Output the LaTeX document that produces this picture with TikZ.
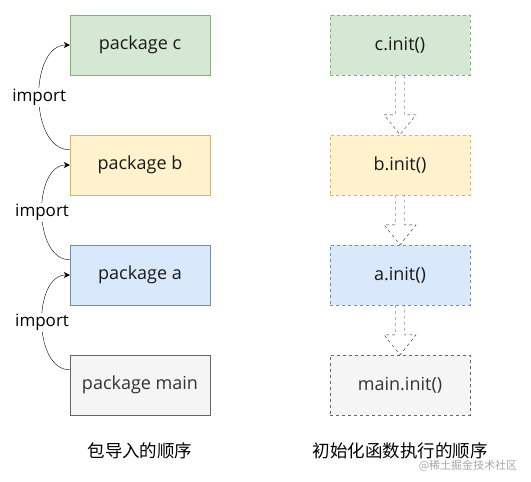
\documentclass[tikz,border=0pt]{standalone}
\usepackage{fontspec}
\setmainfont{Open Sans}
\newfontfamily\cjkfont{Noto Sans CJK SC}
\usetikzlibrary{calc,arrows.meta}

\definecolor{greenfill}{HTML}{D5E8D4}
\definecolor{greenline}{HTML}{82B366}
\definecolor{yellowfill}{HTML}{FFF2CC}
\definecolor{yellowline}{HTML}{D6B656}
\definecolor{bluefill}{HTML}{DAE8FC}
\definecolor{blueline}{HTML}{6C8EBF}
\definecolor{greyfill}{HTML}{F5F5F5}
\definecolor{greyline}{HTML}{666666}
\definecolor{greytext}{HTML}{333333}

\begin{document}
\begin{tikzpicture}[x=1pt,y=-1pt,
	pkg/.style={shape=rectangle,draw,minimum width=140pt,minimum height=60pt,
		font=\fontsize{18}{21}\selectfont,text=black!90},
	initbox/.style={pkg,dashed},
	importarrow/.style={-{Stealth[length=6pt,width=6pt]},thin},
	blockarrow/.style={dashed,thin,draw=black!85}]
	
	\useasboundingbox (0,0) rectangle (531,482);
	
	\node[pkg,fill=greenfill,draw=greenline]   (c) at (140, 45)  {package c};
	\node[pkg,fill=yellowfill,draw=yellowline] (b) at (140, 165) {package b};
	\node[pkg,fill=bluefill,draw=blueline]     (a) at (140, 275) {package a};
	\node[pkg,fill=greyfill,draw=greyline,text=greytext] (m) at (140, 385) {package main};
	
	\node[initbox,fill=greenfill,draw=greenline]   (ci) at (400, 45)  {c.init()};
	\node[initbox,fill=yellowfill,draw=yellowline] (bi) at (400, 165) {b.init()};
	\node[initbox,fill=bluefill,draw=blueline]     (ai) at (400, 275) {a.init()};
	\node[initbox,fill=greyfill,draw=greyline,text=greytext] (mi) at (400, 385) {main.init()};
	
	\node[font=\cjkfont\fontsize{17.5}{20}\selectfont] (left) at (140, 451) {包导入的顺序};
	\node[font=\cjkfont\fontsize{17.5}{20}\selectfont] (right) at (400, 451) {初始化函数执行的顺序};
	\node[font=\cjkfont\fontsize{11}{13}\selectfont,text=black!35] (mark) at (468, 466) {@稀土掘金技术社区};
	
	\draw[importarrow] ($(b.north west)+(0,15)$) to[out=180,in=180]
		node[fill=white,inner sep=1pt,font=\fontsize{17}{20}\selectfont] {import} (c.west);
	\draw[importarrow] ($(a.north west)+(0,15)$) to[out=180,in=180]
		node[fill=white,inner sep=1pt,font=\fontsize{17}{20}\selectfont] {import} (b.west);
	\draw[importarrow] ($(m.north west)+(0,15)$) to[out=180,in=180]
		node[fill=white,inner sep=1pt,font=\fontsize{17}{20}\selectfont] {import} (a.west);
	
	\foreach \u/\v in {ci/bi, bi/ai, ai/mi}
		\draw[blockarrow] ($(\u.south)+(-4.5,0)$) -- ($(\v.north)+(-4.5,-20)$)
			-- ($(\v.north)+(-16,-20)$) -- (\v.north) -- ($(\v.north)+(16,-20)$)
			-- ($(\v.north)+(4.5,-20)$) -- ($(\u.south)+(4.5,0)$);
\end{tikzpicture}
\end{document}
